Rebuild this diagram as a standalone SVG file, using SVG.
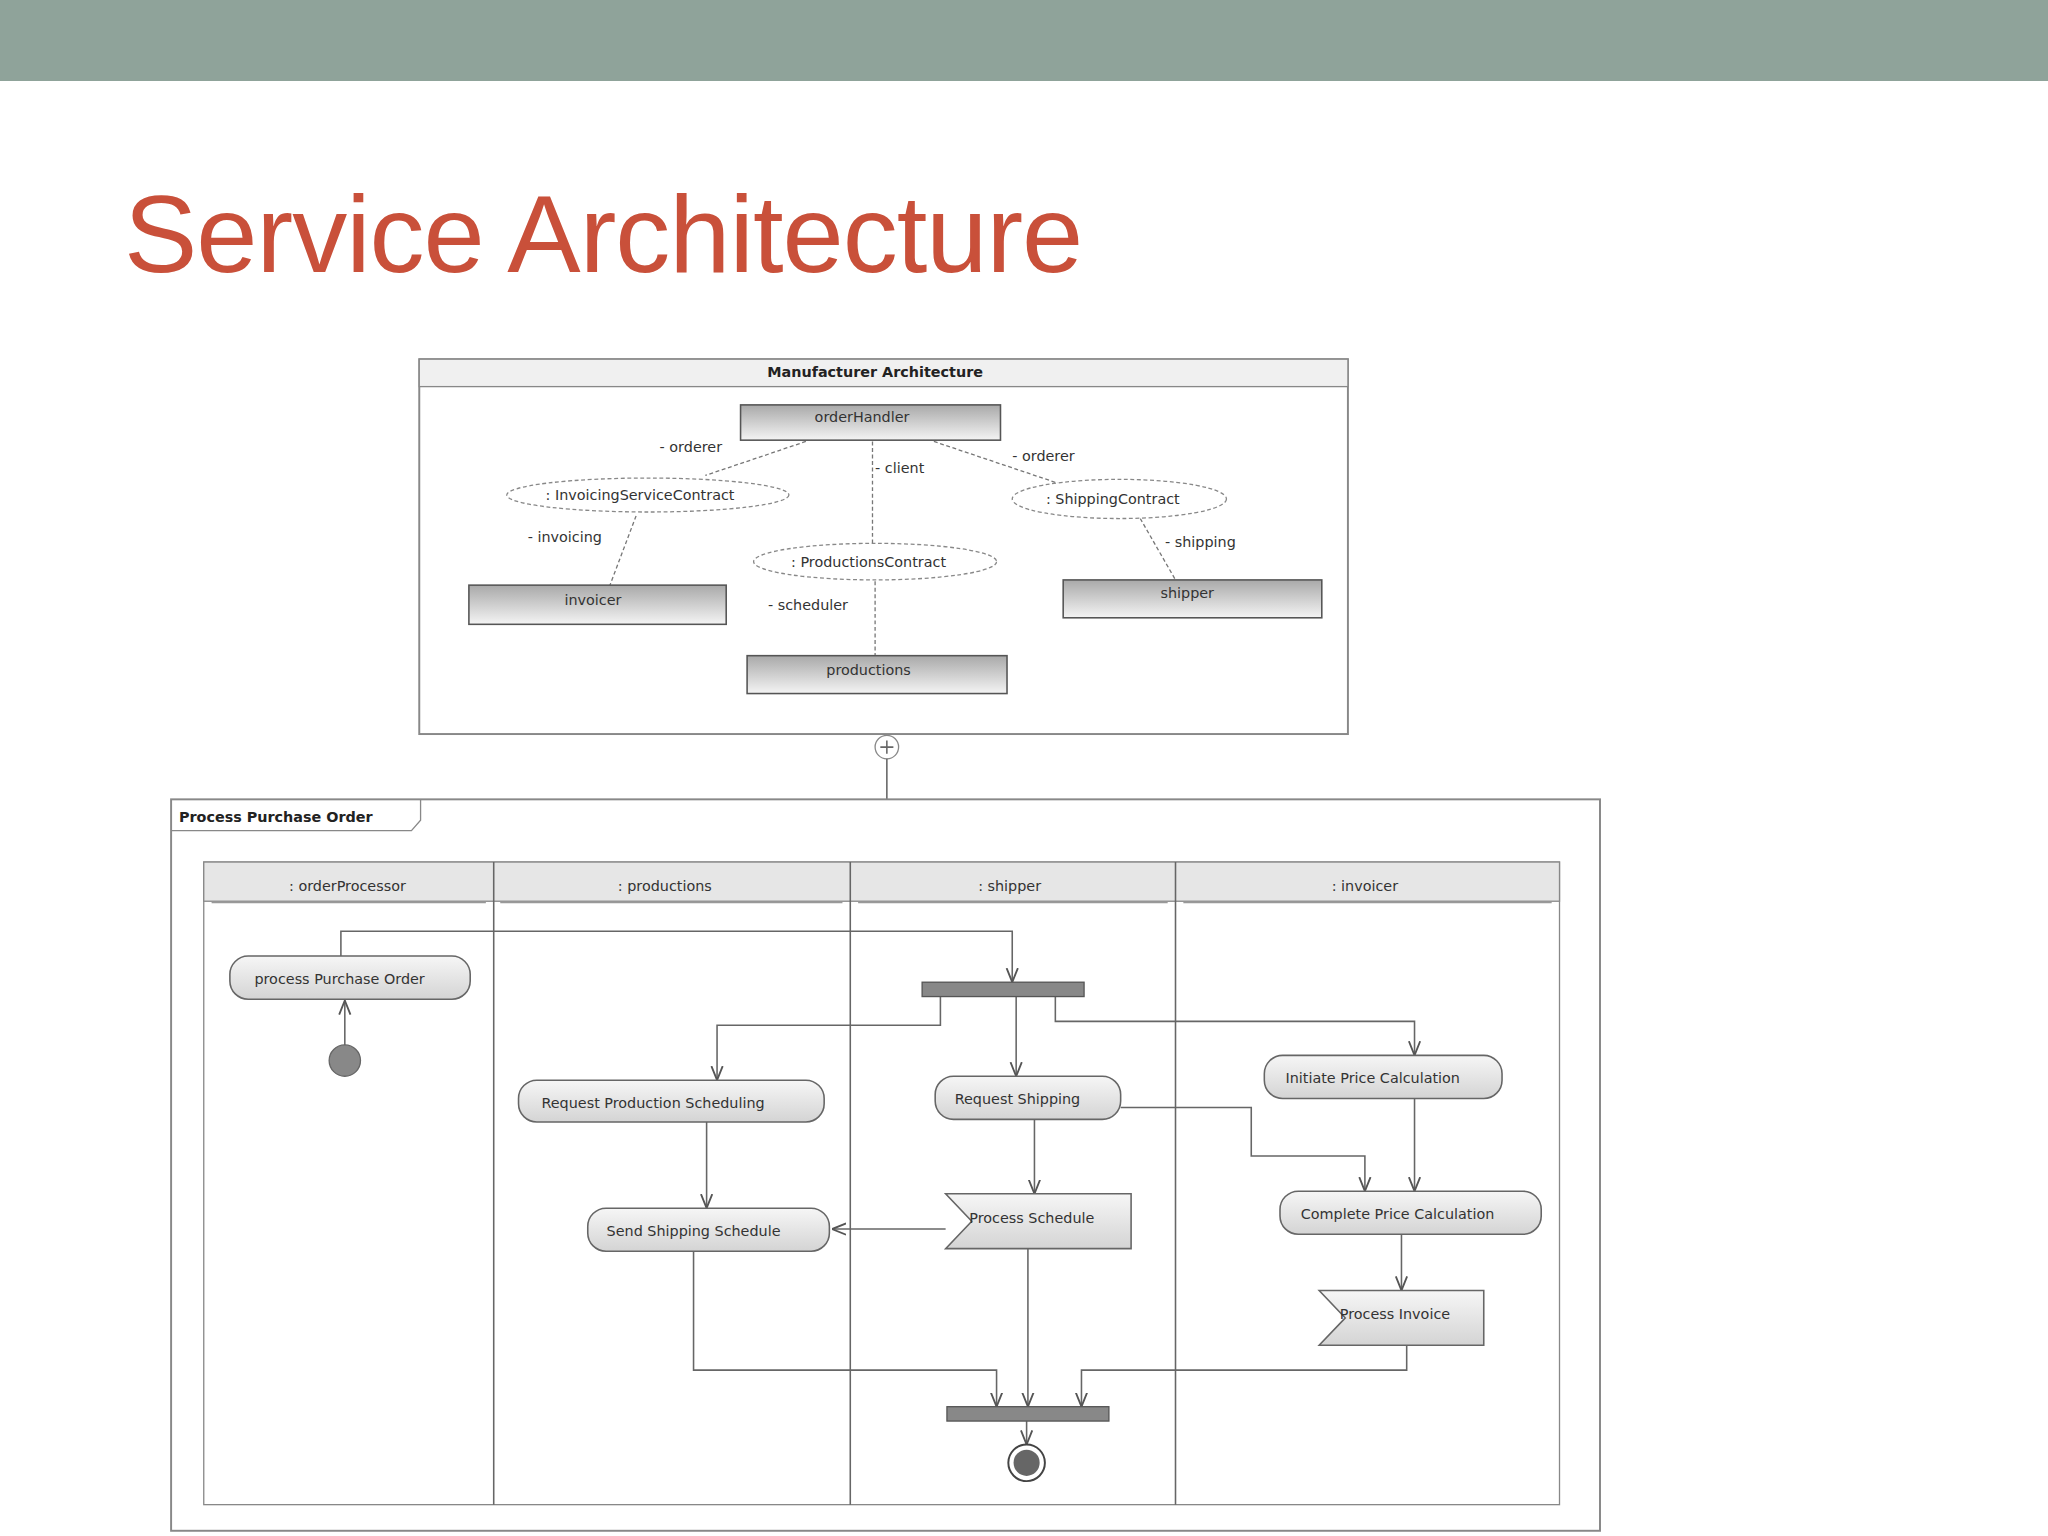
<svg xmlns="http://www.w3.org/2000/svg" width="2048" height="1536" viewBox="0 0 2048 1536">
<defs>
<linearGradient id="g" x1="0" y1="0" x2="0" y2="1"><stop offset="0" stop-color="#a9a9a9"/><stop offset="1" stop-color="#f4f4f4"/></linearGradient>
<linearGradient id="n" x1="0" y1="0" x2="0" y2="1"><stop offset="0" stop-color="#f6f6f6"/><stop offset="1" stop-color="#d4d4d4"/></linearGradient>
<marker id="a" viewBox="0 0 10 10" refX="10" refY="5" markerWidth="9" markerHeight="9" orient="auto"><path d="M0,1 L10,5 L0,9" fill="none" stroke="#555" stroke-width="1.3"/></marker>
</defs>
<style>
text{font-family:"DejaVu Sans",sans-serif;fill:#333;font-size:11px}
.c{text-anchor:middle}
.b{font-weight:bold;fill:#222}
.box{fill:url(#g);stroke:#555;stroke-width:1.2}
.node{fill:url(#n);stroke:#666;stroke-width:1.2}
.dash{fill:none;stroke:#777;stroke-width:1;stroke-dasharray:3,2}
.ell{fill:#fff;stroke:#888;stroke-width:1;stroke-dasharray:3,2}
.frame{fill:#fff;stroke:#888;stroke-width:1.5}
.ln{fill:none;stroke:#666;stroke-width:1.2}
.ar{fill:none;stroke:#666;stroke-width:1.2;marker-end:url(#a)}
.bar{fill:#888;stroke:#555}
</style>
<rect width="2048" height="1536" fill="#fff"/>
<rect width="2048" height="81" fill="#8fa39a"/>
<text x="124" y="272" style="font-family:'Liberation Sans',sans-serif;font-size:110px;fill:#c9503a;letter-spacing:-1px">Service Architecture</text>
<g transform="scale(1.30612)">
<g id="manufacturer">
<rect x="321" y="275" width="711" height="287" class="frame"/>
<rect x="321" y="275" width="711" height="21" fill="#f0f0f0" stroke="#888"/>
<text x="670" y="289" class="c b">Manufacturer Architecture</text>
</g>
<g id="connectors-top">
<path class="dash" d="M617,338 L540,364"/>
<path class="dash" d="M668,338 L668,416"/>
<path class="dash" d="M715,338 L810,370"/>
<path class="dash" d="M487,395 L467,448"/>
<path class="dash" d="M670,445 L670,502"/>
<path class="dash" d="M873,397 L900,444"/>
<text x="505" y="346">- orderer</text>
<text x="670" y="362">- client</text>
<text x="775" y="353">- orderer</text>
<text x="404" y="415">- invoicing</text>
<text x="588" y="467">- scheduler</text>
<text x="892" y="419">- shipping</text>
</g>
<g id="orderHandler"><rect x="567" y="310" width="199" height="27" class="box"/><text x="660" y="323" class="c">orderHandler</text></g>
<g id="invoicer"><rect x="359" y="448" width="197" height="30" class="box"/><text x="454" y="463" class="c">invoicer</text></g>
<g id="shipper"><rect x="814" y="444" width="198" height="29" class="box"/><text x="909" y="458" class="c">shipper</text></g>
<g id="productions"><rect x="572" y="502" width="199" height="29" class="box"/><text x="665" y="517" class="c">productions</text></g>
<g id="invoicingContract"><ellipse cx="496" cy="379" rx="108" ry="13" class="ell"/><text x="490" y="383" class="c">: InvoicingServiceContract</text></g>
<g id="productionsContract"><ellipse cx="670" cy="430" rx="93" ry="14" class="ell"/><text x="665" y="434" class="c">: ProductionsContract</text></g>
<g id="shippingContract"><ellipse cx="857" cy="382" rx="82" ry="15" class="ell"/><text x="852" y="386" class="c">: ShippingContract</text></g>
<g id="link">
<circle cx="679" cy="572" r="9" fill="#fff" stroke="#888"/>
<path class="ln" d="M674,572 H684 M679,567 V577 M679,581 V612"/>
</g>
<g id="ppo">
<rect x="131" y="612" width="1094" height="560" class="frame"/>
<path d="M131,636 H315 L322,628 V612" fill="none" stroke="#888"/>
<text x="137" y="629" class="b">Process Purchase Order</text>
<rect x="156" y="660" width="1038" height="492" fill="#fff" stroke="#888"/>
<rect x="156" y="660" width="1038" height="30" fill="#e6e6e6" stroke="#888"/>
<path class="ln" d="M378,660 V1152 M651,660 V1152 M900,660 V1152"/>
<path d="M162,691 H372 M383,691 H645 M657,691 H894 M906,691 H1188" stroke="#999"/>
<text x="266" y="682" class="c">: orderProcessor</text>
<text x="509" y="682" class="c">: productions</text>
<text x="773" y="682" class="c">: shipper</text>
<text x="1045" y="682" class="c">: invoicer</text>
</g>
<g id="connectors">
<path class="ar" d="M261,732 V713 H775 V752"/>
<path class="ar" d="M264,800 V766"/>
<path class="ar" d="M778,763 V824"/>
<path class="ar" d="M720,763 V785 H549 V827"/>
<path class="ar" d="M808,763 V782 H1083 V808"/>
<path class="ar" d="M541,859 V925"/>
<path class="ar" d="M792,857 V914"/>
<path class="ar" d="M858,848 H958 V885 H1045 V912"/>
<path class="ar" d="M1083,841 V912"/>
<path class="ar" d="M1073,945 V988"/>
<path class="ar" d="M724,941 H637"/>
<path class="ar" d="M787,956 V1077"/>
<path class="ar" d="M531,958 V1049 H763 V1077"/>
<path class="ar" d="M1077,1030 V1049 H828 V1077"/>
<path class="ar" d="M786,1088 V1106"/>
</g>
<g id="initial"><circle cx="264" cy="812" r="12" fill="#888" stroke="#666"/></g>
<g id="processPO"><rect x="176" y="732" width="184" height="33" rx="14" class="node"/><text x="260" y="753" class="c">process Purchase Order</text></g>
<g id="reqProd"><rect x="397" y="827" width="234" height="32" rx="14" class="node"/><text x="500" y="848" class="c">Request Production Scheduling</text></g>
<g id="sendShip"><rect x="450" y="925" width="185" height="33" rx="14" class="node"/><text x="531" y="946" class="c">Send Shipping Schedule</text></g>
<g id="reqShip"><rect x="716" y="824" width="142" height="33" rx="14" class="node"/><text x="779" y="845" class="c">Request Shipping</text></g>
<g id="initPrice"><rect x="968" y="808" width="182" height="33" rx="14" class="node"/><text x="1051" y="829" class="c">Initiate Price Calculation</text></g>
<g id="compPrice"><rect x="980" y="912" width="200" height="33" rx="14" class="node"/><text x="1070" y="933" class="c">Complete Price Calculation</text></g>
<g id="procSched"><polygon points="724,914 866,914 866,956 724,956 744,935" class="node"/><text x="790" y="936" class="c">Process Schedule</text></g>
<g id="procInv"><polygon points="1010,988 1136,988 1136,1030 1010,1030 1030,1009" class="node"/><text x="1068" y="1010" class="c">Process Invoice</text></g>
<g id="fork"><rect x="706" y="752" width="124" height="11" class="bar"/></g>
<g id="join"><rect x="725" y="1077" width="124" height="11" class="bar"/></g>
<g id="final"><circle cx="786" cy="1120" r="14" fill="#fff" stroke="#444" stroke-width="1.5"/><circle cx="786" cy="1120" r="10" fill="#666"/></g>
</g>
</svg>
